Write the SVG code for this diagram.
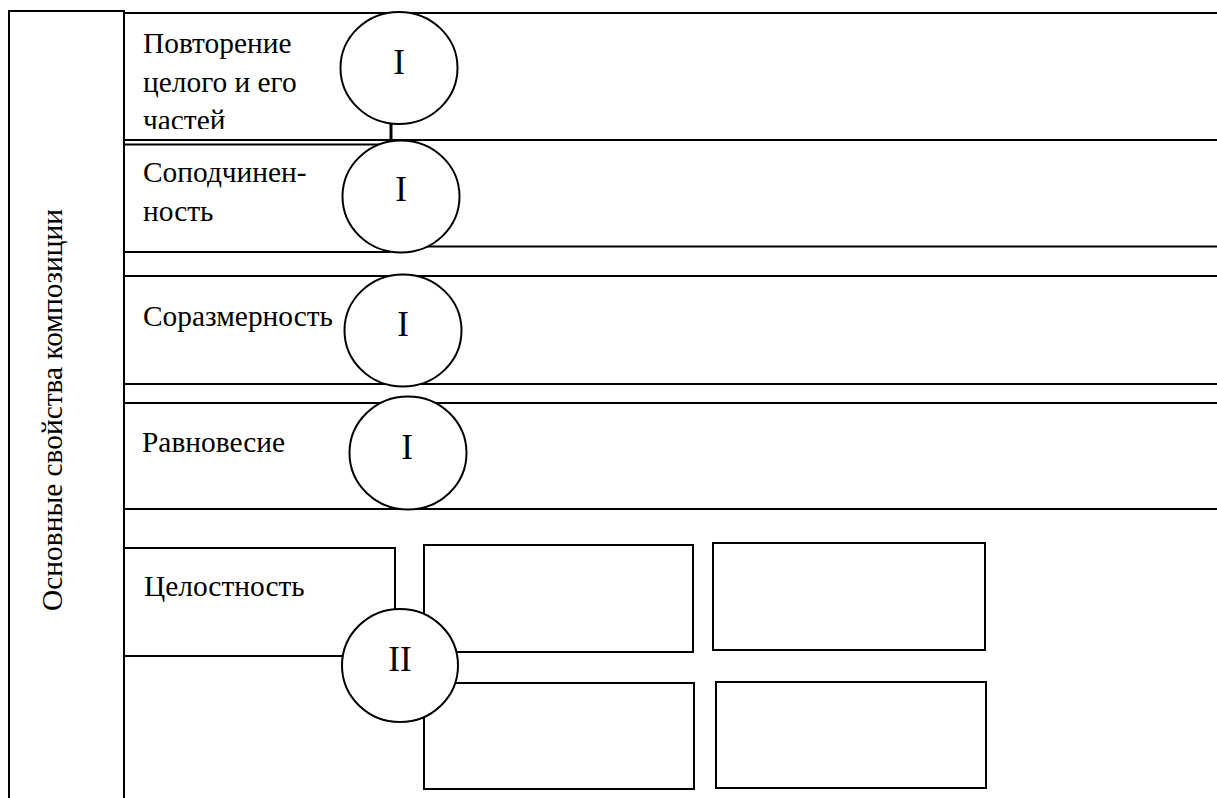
<svg xmlns="http://www.w3.org/2000/svg" width="1217" height="798" viewBox="0 0 1217 798">
<style>
.ln{fill:none;stroke:#000;stroke-width:2}
.cir{fill:#fff;stroke:#000;stroke-width:2}
.t{font-family:'Liberation Serif',serif;font-size:29.4px;fill:#000}
.r{font-family:'Liberation Serif',serif;font-size:35px;fill:#000;text-anchor:middle}
</style>
<defs>
<clipPath id="clip1"><rect x="124" y="13" width="220" height="116"/></clipPath>
</defs>
<rect width="1217" height="798" fill="#fff"/>
<g id="title">
<path class="ln" d="M9 800 V11 H124 V800"/>
<text class="t" transform="translate(62,410) rotate(-90)" text-anchor="middle">Основные свойства композиции</text>
</g>
<g id="row1">
<path class="ln" d="M124 13 H1230 M124 140 H1230"/>
<g clip-path="url(#clip1)">
<text class="t" x="143" y="53">Повторение</text>
<text class="t" x="143" y="92">целого и его</text>
<text class="t" x="143" y="130">частей</text>
</g>
</g>
<g id="row2">
<rect class="ln" x="124" y="144.5" width="266" height="107.5"/>
<path class="ln" d="M400 246.5 H1230"/>
<text class="t" x="143" y="182">Соподчинен-</text>
<text class="t" x="143" y="221">ность</text>
</g>
<g id="row3">
<path class="ln" d="M124 276 H1230 M124 384 H1230"/>
<text class="t" x="143" y="326">Соразмерность</text>
</g>
<g id="row4">
<path class="ln" d="M124 403 H1230 M124 509 H1230"/>
<text class="t" x="142" y="452">Равновесие</text>
</g>
<g id="row5">
<rect class="ln" x="124" y="548" width="271" height="108"/>
<text class="t" x="144" y="596">Целостность</text>
</g>
<g id="box1"><rect class="ln" x="424" y="545" width="269" height="107"/></g>
<g id="box2"><rect class="ln" x="713" y="543" width="272" height="107"/></g>
<g id="box3"><rect class="ln" x="424" y="683" width="270" height="106"/></g>
<g id="box4"><rect class="ln" x="716" y="682" width="270" height="106"/></g>
<g id="connectors">
<path d="M391 122 V142" fill="none" stroke="#000" stroke-width="3"/>
</g>
<g id="circle1"><ellipse class="cir" cx="399" cy="68" rx="58.5" ry="56"/><text class="r" x="399" y="74">I</text></g>
<g id="circle2"><ellipse class="cir" cx="401" cy="196.5" rx="58.5" ry="56"/><text class="r" x="401" y="201">I</text></g>
<g id="circle3"><ellipse class="cir" cx="403" cy="330.5" rx="58.5" ry="56"/><text class="r" x="403" y="336">I</text></g>
<g id="circle4"><ellipse class="cir" cx="408" cy="453" rx="58.5" ry="56.5"/><text class="r" x="407" y="459">I</text></g>
<g id="circle5"><ellipse class="cir" cx="400" cy="665.5" rx="58" ry="56.5"/><text class="r" x="400" y="671">II</text></g>
</svg>
